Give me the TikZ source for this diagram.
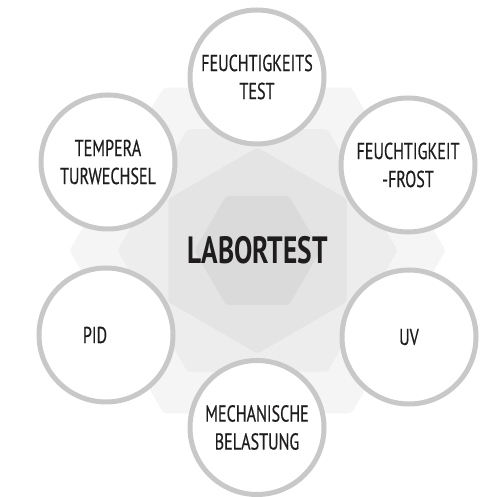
\documentclass[tikz,border=0pt]{standalone}
\usepackage{fontspec}
\setmainfont{PT Sans}[FakeStretch=0.72]
\newfontfamily\ringfont{PT Sans}[FakeStretch=0.70,FakeBold=0.4]
\usetikzlibrary{positioning}
\definecolor{ring}{HTML}{C8C8C8}
\definecolor{ink}{HTML}{1E1C1D}
\definecolor{hexA}{HTML}{F5F5F5}
\definecolor{hexB}{HTML}{EDEDED}
\definecolor{hexC}{HTML}{E4E4E4}
\definecolor{hexD}{HTML}{DADADA}
\tikzset{test/.style={circle,draw=ring,fill=white,line width=5pt,minimum size=134pt,inner sep=0pt,align=center,text=ink,font=\ringfont\fontsize{23}{28}\selectfont}, hub/.style={text=ink,font=\bfseries\fontsize{38}{40}\selectfont,inner sep=0pt}, hexfill/.style={rounded corners=3pt}}
\begin{document}
\begin{tikzpicture}[x=1pt,y=1pt]
\useasboundingbox (0,0) rectangle (487,497);
\coordinate (C) at (257.5,246.5);
% background hexagons
\fill[hexA,hexfill,shift={(C)}] (0:188) \foreach \a in {60,120,...,300}{-- (\a:188)} -- cycle;
\fill[hexB,hexfill,shift={(C)}] (0:140) \foreach \a in {60,120,...,300}{-- (\a:140)} -- cycle;
\fill[hexC,hexfill,shift={(C)}] (30:103) \foreach \a in {90,150,...,330}{-- (\a:103)} -- cycle;
\fill[hexD,hexfill,shift={(C)}] (0:63) \foreach \a in {60,120,...,300}{-- (\a:63)} -- cycle;
\node[hub] (labor) at (C) {LABORTEST};
% test circles
\node[test] (feuchte) at (257,420) {FEUCHTIGKEITS\\TEST};
\node[test] (frost) at (408,332) {FEUCHTIGKEIT\\-FROST};
\node[test] (uv) at (409,160) {UV};
\node[test] (mech) at (257,69.5) {MECHANISCHE\\BELASTUNG};
\node[test] (pid) at (106,162) {PID\kern22pt};
\node[test] (temp) at (108,335) {TEMPERA\\TURWECHSEL};
\end{tikzpicture}
\end{document}
